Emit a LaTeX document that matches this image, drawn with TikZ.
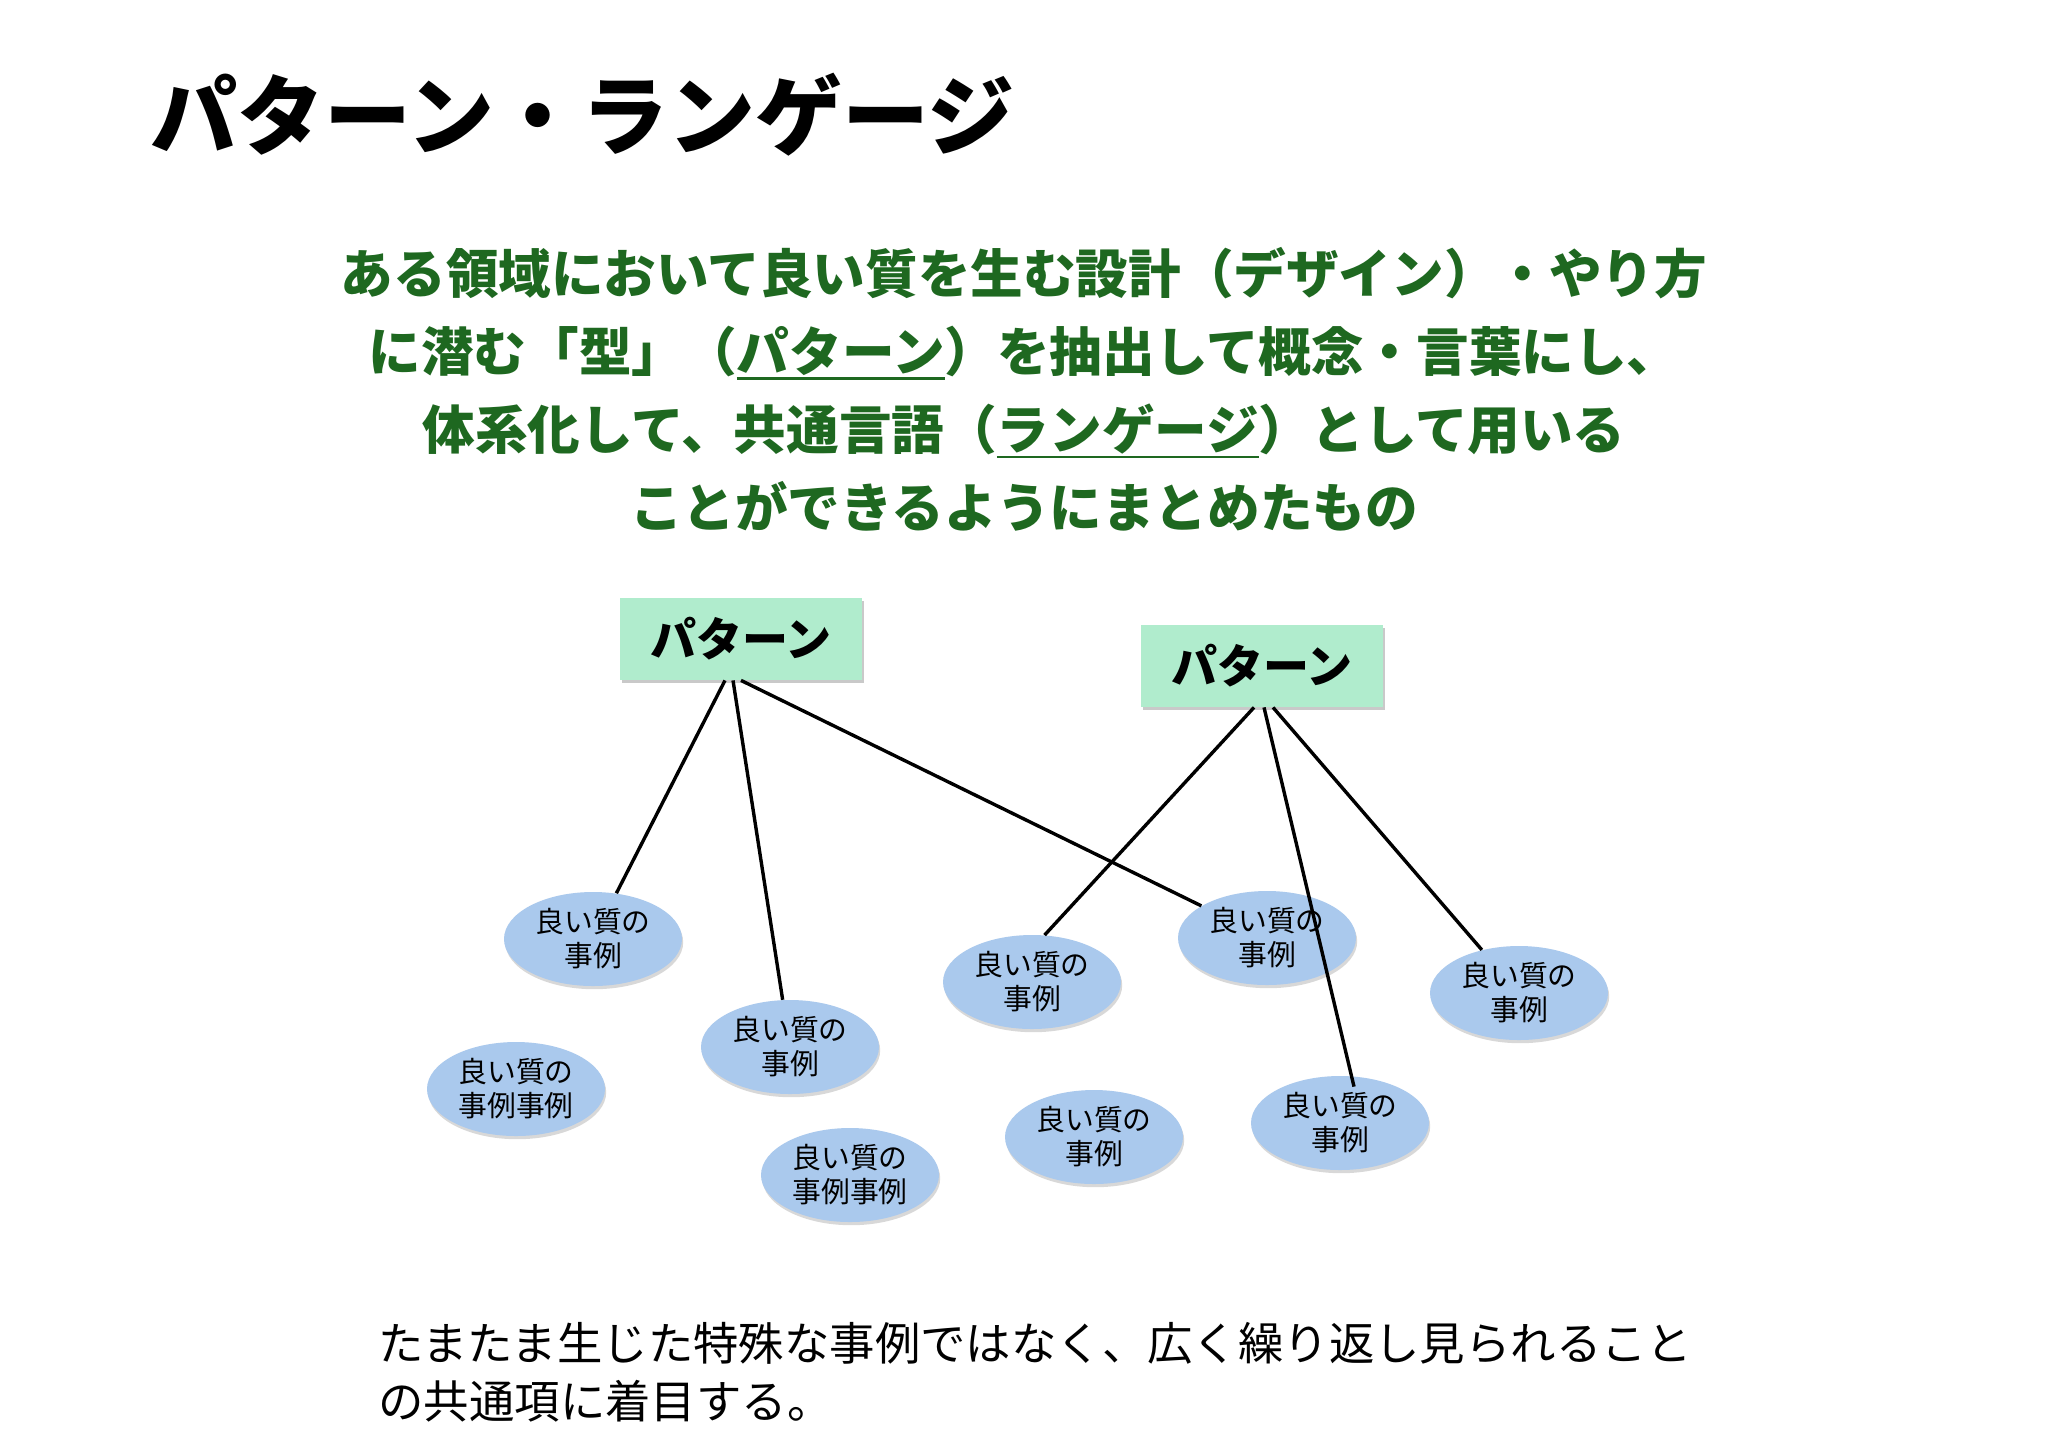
\documentclass[tikz,border=0pt]{standalone}
\usepackage{fontspec}
\setmainfont{Noto Sans CJK JP}
\usetikzlibrary{positioning,shapes.geometric,shadows}
\definecolor{leadG}{RGB}{30,104,32}
\definecolor{patG}{RGB}{176,236,205}
\definecolor{caseB}{RGB}{170,201,237}
\newcommand{\ulg}[1]{\setbox0=\hbox{#1}\leavevmode
  \rlap{\vrule width\wd0 height\dimexpr-\dp0-1pt\relax depth\dimexpr\dp0+2.2pt\relax}\box0}

\begin{document}
\begin{tikzpicture}[x=0.5pt, y=-0.5pt,
  pat/.style={fill=patG, minimum width=121pt, minimum height=41pt, inner sep=0pt,
    font=\bfseries\fontsize{23}{26}\selectfont,
    drop shadow={shadow xshift=1.2pt, shadow yshift=-1.5pt, opacity=0.35, fill=black!60}},
  case/.style={ellipse, fill=caseB, minimum width=89pt, minimum height=47pt, inner sep=0pt,
    align=center, font=\fontsize{14.4}{17}\selectfont,
    drop shadow={shadow xshift=0.6pt, shadow yshift=-1.6pt, opacity=0.3, fill=black!50}},
  link/.style={line width=1.7pt, black},
]
\fill[white] (0,0) rectangle (2048,1447);
\useasboundingbox (0,0) rectangle (2048,1447);

% Title and definition
\node[anchor=west, inner sep=0pt, font=\bfseries\fontsize{43.5}{50}\selectfont] (title) at (150,115)
  {パターン・ランゲージ};
\node[align=center, inner sep=0pt, text=leadG, font=\bfseries\fontsize{26.3}{39}\selectfont] (def) at (1024,389) {%
  ある領域において良い質を生む設計（デザイン）・やり方\\
  に潜む「型」（\ulg{パターン}）を抽出して概念・言葉にし、\\
  体系化して、共通言語（\ulg{ランゲージ}）として用いる\\
  ことができるようにまとめたもの};

% Cases
\node[case] (e1) at (593,939)  {良い質の\\事例};
\node[case] (e2) at (790,1047) {良い質の\\事例};
\node[case] (e3) at (516,1089) {良い質の\\事例事例};
\node[case] (e4) at (850,1175) {良い質の\\事例事例};
\node[case] (e5) at (1032,982) {良い質の\\事例};
\node[case] (e6) at (1267,938) {良い質の\\事例};
\node[case] (e7) at (1094,1137) {良い質の\\事例};
\node[case] (e8) at (1340,1123) {良い質の\\事例};
\node[case] (e9) at (1519,993) {良い質の\\事例};

% Patterns
\node[pat] (p1) at (741,639) {パターン};
\node[pat] (p2) at (1262,666) {パターン};

\draw[link] ([xshift=-8pt]p1.south) -- (e1);
\draw[link] ([xshift=-4pt]p1.south) -- (e2);
\draw[link] (p1.south) -- (e6);
\draw[link] ([xshift=-4pt]p2.south) -- (e5.75);
\draw[link] ([xshift=1pt]p2.south) -- ([xshift=7pt,yshift=-5.5pt]e8.north);
\draw[link] ([xshift=5.5pt]p2.south) -- (e9);

% Note
\node[anchor=west, align=left, inner sep=0pt, font=\fontsize{22.7}{29}\selectfont] (note) at (378,1372)
  {たまたま生じた特殊な事例ではなく、広く繰り返し見られること\\の共通項に着目する。};

\end{tikzpicture}
\end{document}
